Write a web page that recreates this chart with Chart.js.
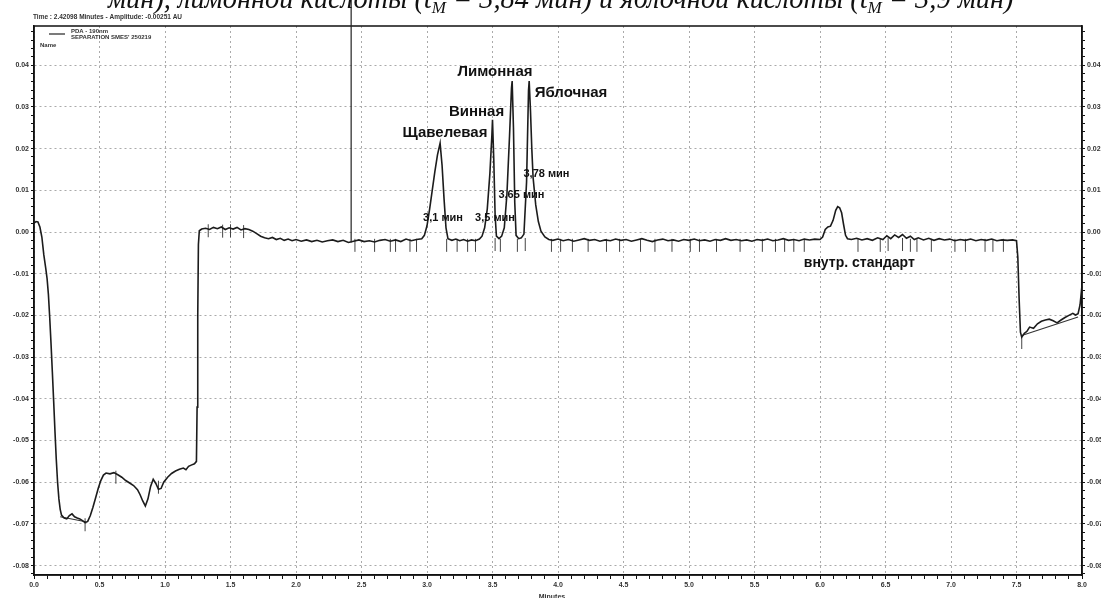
<!DOCTYPE html>
<html>
<head>
<meta charset="utf-8">
<script src="https://cdn.jsdelivr.net/npm/chart.js@4.4.1/dist/chart.umd.min.js"></script>
<style>
  html, body { margin: 0; padding: 0; background: #fff; }
</style>
</head>
<body>
<canvas id="chromChart" width="1101" height="598"></canvas>
<script>
// detector trace, [minutes, AU]
const trace = [
  [0.00, 0.0021], [0.015, 0.0025], [0.03, 0.0024], [0.045, 0.0012], [0.06, -0.0012], [0.075, -0.0055],
  [0.09, -0.0088], [0.10, -0.0112], [0.11, -0.0150], [0.12, -0.0205], [0.13, -0.0268], [0.14, -0.0335],
  [0.15, -0.0405], [0.16, -0.0478], [0.17, -0.0545], [0.18, -0.0600], [0.19, -0.0640], [0.20, -0.0665],
  [0.21, -0.0679], [0.23, -0.0686], [0.25, -0.0688], [0.27, -0.0680], [0.29, -0.0676], [0.31, -0.0683],
  [0.33, -0.0686], [0.35, -0.0688], [0.37, -0.0692], [0.39, -0.0697], [0.41, -0.0694], [0.43, -0.0680],
  [0.45, -0.0660], [0.47, -0.0638], [0.49, -0.0615], [0.51, -0.0596], [0.53, -0.0583], [0.55, -0.0578],
  [0.58, -0.0580], [0.61, -0.0577], [0.64, -0.0582], [0.67, -0.0588], [0.70, -0.0596], [0.73, -0.0602],
  [0.76, -0.0608], [0.79, -0.0618], [0.81, -0.0630], [0.83, -0.0645], [0.85, -0.0657], [0.87, -0.0640],
  [0.89, -0.0610], [0.91, -0.0593], [0.93, -0.0603], [0.95, -0.0617], [0.97, -0.0615], [0.99, -0.0600],
  [1.02, -0.0588], [1.05, -0.0579], [1.08, -0.0573], [1.11, -0.0569], [1.14, -0.0566], [1.16, -0.0570],
  [1.18, -0.0562], [1.20, -0.0559], [1.225, -0.0556], [1.24, -0.0550], [1.245, -0.0420], [1.25, -0.0200],
  [1.255, -0.0030], [1.262, 0.0003],
  [1.28, 0.0007], [1.31, 0.0009], [1.34, 0.0006], [1.37, 0.0011], [1.40, 0.0008], [1.43, 0.0012],
  [1.46, 0.0006], [1.49, 0.0010], [1.52, 0.0007], [1.55, 0.0011], [1.58, 0.0005], [1.61, 0.0008],
  [1.64, 0.0006], [1.67, 0.0002], [1.70, -0.0004], [1.73, -0.0010], [1.76, -0.0014], [1.79, -0.0016],
  [1.82, -0.0013], [1.85, -0.0018], [1.88, -0.0015], [1.91, -0.0020], [1.94, -0.0017], [1.97, -0.0021],
  [2.00, -0.0018], [2.04, -0.0022], [2.08, -0.0019], [2.12, -0.0023], [2.16, -0.0020], [2.20, -0.0024],
  [2.24, -0.0021], [2.28, -0.0019], [2.32, -0.0023], [2.36, -0.0020], [2.40, -0.0025], [2.44, -0.0022],
  [2.48, -0.0019], [2.52, -0.0023], [2.56, -0.0021], [2.60, -0.0024], [2.64, -0.0020], [2.68, -0.0018],
  [2.72, -0.0022], [2.76, -0.0019], [2.80, -0.0023], [2.84, -0.0017], [2.88, -0.0021], [2.92, -0.0018],
  [2.96, -0.0016],
  [2.98, -0.0008], [3.00, 0.0015], [3.02, 0.0055], [3.04, 0.0100], [3.06, 0.0145], [3.08, 0.0185],
  [3.10, 0.0213], [3.115, 0.0160], [3.13, 0.0080], [3.145, 0.0010], [3.16, -0.0016], [3.19, -0.0020],
  [3.22, -0.0017], [3.25, -0.0021], [3.28, -0.0018], [3.31, -0.0022], [3.34, -0.0019], [3.37, -0.0021],
  [3.40, -0.0017], [3.42, -0.0010], [3.44, 0.0010], [3.46, 0.0055], [3.48, 0.0140], [3.495, 0.0230],
  [3.50, 0.0269], [3.51, 0.0170], [3.52, 0.0040], [3.53, -0.0010], [3.55, -0.0016], [3.57, -0.0010],
  [3.59, 0.0010], [3.61, 0.0090], [3.63, 0.0230], [3.645, 0.0345], [3.65, 0.0362], [3.66, 0.0250],
  [3.67, 0.0070], [3.68, -0.0008], [3.70, -0.0016], [3.72, -0.0014], [3.74, -0.0005], [3.76, 0.0120],
  [3.775, 0.0340], [3.78, 0.0362], [3.79, 0.0290], [3.80, 0.0200], [3.81, 0.0130], [3.83, 0.0065],
  [3.85, 0.0025], [3.87, 0.0002], [3.90, -0.0012], [3.93, -0.0018],
  [3.96, -0.0020], [4.00, -0.0017], [4.04, -0.0021], [4.08, -0.0018], [4.12, -0.0022], [4.16, -0.0019],
  [4.20, -0.0016], [4.24, -0.0020], [4.28, -0.0018], [4.32, -0.0022], [4.36, -0.0019], [4.40, -0.0021],
  [4.44, -0.0017], [4.48, -0.0020], [4.52, -0.0018], [4.56, -0.0022], [4.60, -0.0019], [4.64, -0.0016],
  [4.68, -0.0020], [4.72, -0.0023], [4.76, -0.0019], [4.80, -0.0017], [4.84, -0.0021], [4.88, -0.0019],
  [4.92, -0.0022], [4.96, -0.0018], [5.00, -0.0020], [5.04, -0.0017], [5.08, -0.0021], [5.12, -0.0019],
  [5.16, -0.0022], [5.20, -0.0018], [5.24, -0.0020], [5.28, -0.0016], [5.32, -0.0020], [5.36, -0.0018],
  [5.40, -0.0021], [5.44, -0.0019], [5.48, -0.0022], [5.52, -0.0018], [5.56, -0.0020], [5.60, -0.0017],
  [5.64, -0.0021], [5.68, -0.0019], [5.72, -0.0016], [5.76, -0.0020], [5.80, -0.0018], [5.84, -0.0021],
  [5.88, -0.0017], [5.92, -0.0019], [5.96, -0.0017], [6.00, -0.0018],
  [6.02, -0.0012], [6.04, 0.0006], [6.06, 0.0012], [6.08, 0.0014], [6.10, 0.0028], [6.12, 0.0052],
  [6.135, 0.0061], [6.15, 0.0058], [6.165, 0.0046], [6.18, 0.0018], [6.195, -0.0008], [6.21, -0.0016],
  [6.24, -0.0018], [6.28, -0.0015], [6.32, -0.0019], [6.36, -0.0016], [6.40, -0.0020], [6.44, -0.0014],
  [6.48, -0.0018], [6.51, -0.0009], [6.54, -0.0016], [6.57, -0.0007], [6.60, -0.0013], [6.63, -0.0006],
  [6.66, -0.0015], [6.69, -0.0010], [6.72, -0.0018], [6.75, -0.0014], [6.79, -0.0019], [6.83, -0.0015],
  [6.87, -0.0020], [6.91, -0.0016], [6.95, -0.0019], [6.99, -0.0017], [7.03, -0.0021], [7.07, -0.0018],
  [7.11, -0.0020], [7.15, -0.0017], [7.19, -0.0021], [7.23, -0.0018], [7.27, -0.0020], [7.31, -0.0017],
  [7.35, -0.0021], [7.39, -0.0019], [7.43, -0.0020], [7.47, -0.0019], [7.50, -0.0021],
  [7.51, -0.0060], [7.52, -0.0160], [7.53, -0.0240], [7.54, -0.0252], [7.56, -0.0243], [7.58, -0.0238],
  [7.60, -0.0228], [7.63, -0.0231], [7.66, -0.0220], [7.69, -0.0214], [7.72, -0.0211], [7.75, -0.0209],
  [7.78, -0.0213], [7.81, -0.0218], [7.84, -0.0211], [7.87, -0.0205], [7.90, -0.0200], [7.93, -0.0195],
  [7.95, -0.0199], [7.97, -0.0196], [7.985, -0.0175], [8.00, -0.0128]
];

// straight integration baselines
const baselineFits = [
  [[0.20, -0.0683], [0.395, -0.0695]],
  [[7.54, -0.0248], [7.97, -0.0204]]
];

// peak event marks (short vertical dashes)
const eventMarks = [
  [0.39, -0.0702], [0.625, -0.0588], [0.95, -0.0612],
  [1.33, 0.0003], [1.44, 0.0002], [1.50, 0.0003], [1.60, 0.0001],
  [2.45, -0.0032], [2.60, -0.0032], [2.72, -0.0032], [2.76, -0.0032], [2.87, -0.0032], [2.92, -0.0032],
  [3.15, -0.0032], [3.23, -0.0032], [3.31, -0.0032], [3.37, -0.0032], [3.52, -0.0030], [3.56, -0.0032],
  [3.69, -0.0032], [3.75, -0.0030], [3.95, -0.0032], [4.02, -0.0032], [4.11, -0.0032], [4.23, -0.0032],
  [4.37, -0.0032], [4.47, -0.0032], [4.63, -0.0032], [4.74, -0.0032], [4.87, -0.0032], [5.01, -0.0032],
  [5.08, -0.0032], [5.21, -0.0032], [5.39, -0.0032], [5.56, -0.0032], [5.66, -0.0032], [5.73, -0.0032],
  [5.80, -0.0032], [5.88, -0.0032], [6.29, -0.0032], [6.46, -0.0032], [6.52, -0.0030], [6.63, -0.0030],
  [6.69, -0.0032], [6.74, -0.0032], [6.85, -0.0032], [7.03, -0.0032], [7.11, -0.0032], [7.26, -0.0032],
  [7.32, -0.0032], [7.40, -0.0032], [7.54, -0.0265]
];

// peak names and retention times, anchored in data units [text, minutes, AU]
const peakNames = [
  ["Щавелевая", 3.137, 0.0237],
  ["Винная", 3.378, 0.0288],
  ["Лимонная", 3.519, 0.0384],
  ["Яблочная", 4.099, 0.0333],
  ["внутр. стандарт", 6.30, -0.0074]
];
const retentionLabels = [
  ["3,1 мин", 3.122, 0.0034],
  ["3,5 мин", 3.519, 0.0034],
  ["3,65 мин", 3.721, 0.0089],
  ["3,78 мин", 3.912, 0.0139]
];

const cursorTime = 2.42098;
const cursorAmp = -0.00251;
const xMin = 0, xMax = 8;
const yMin = -0.08225, yMax = 0.0494;

const onStep = (v, step) => Math.abs(v / step - Math.round(v / step)) < 1e-6;
const tickFont = { family: "Liberation Sans", size: 7, weight: "bold" };

const baselineData = [];
baselineFits.forEach((seg) => {
  seg.forEach(([x, y]) => baselineData.push({ x, y }));
  baselineData.push({ x: seg[1][0] + 0.001, y: null });
});

const yAxis = (pos) => ({
  position: pos,
  min: yMin,
  max: yMax,
  afterFit: (s) => { s.width = pos === "left" ? 34 : 19; },
  ticks: {
    stepSize: 0.002,
    includeBounds: false,
    autoSkip: false,
    padding: 2,
    color: "#333",
    font: tickFont,
    callback: (v) => onStep(v, 0.01) ? (Math.abs(v) < 1e-9 ? "0.00" : v.toFixed(2)) : ""
  },
  grid: {
    drawOnChartArea: pos === "left",
    color: (c) => c.tick && onStep(c.tick.value, 0.01) ? "#aaa" : "rgba(0,0,0,0)",
    lineWidth: 1,
    tickColor: "#111",
    tickLength: 3
  },
  border: { color: "#111", width: 1.5, dash: [2, 3] }
});

const overlay = {
  id: "overlay",
  afterDatasetsDraw(chart) {
    const { ctx, chartArea: a, scales: { x, y } } = chart;
    ctx.save();
    // plot frame
    ctx.strokeStyle = "#111";
    ctx.lineWidth = 1.5;
    ctx.strokeRect(a.left, a.top, a.right - a.left, a.bottom - a.top);
    // cursor line
    const cx = x.getPixelForValue(cursorTime);
    ctx.lineWidth = 1.2;
    ctx.strokeStyle = "#222";
    ctx.beginPath();
    ctx.moveTo(cx, 0);
    ctx.lineTo(cx, y.getPixelForValue(cursorAmp));
    ctx.stroke();

    // peak annotations
    ctx.fillStyle = "#111";
    ctx.textAlign = "center";
    ctx.textBaseline = "middle";
    ctx.font = "bold 15px 'Liberation Sans'";
    peakNames.forEach(([t, px, py]) => {
      if (t === "внутр. стандарт") ctx.font = "bold 14px 'Liberation Sans'";
      ctx.fillText(t, x.getPixelForValue(px), y.getPixelForValue(py));
    });
    ctx.font = "bold 11px 'Liberation Sans'";
    retentionLabels.forEach(([t, px, py]) => {
      ctx.fillText(t, x.getPixelForValue(px), y.getPixelForValue(py));
    });

    // header info
    ctx.textAlign = "left";
    ctx.fillStyle = "#333";
    ctx.font = "bold 6.5px 'Liberation Sans'";
    ctx.fillText("Time : 2.42098 Minutes - Amplitude: -0.00251 AU", 33, 17);
    // legend
    ctx.strokeStyle = "#222";
    ctx.lineWidth = 1.2;
    ctx.beginPath();
    ctx.moveTo(49, 34);
    ctx.lineTo(65, 34);
    ctx.stroke();
    ctx.font = "bold 6px 'Liberation Sans'";
    ctx.fillText("PDA - 190nm", 71, 31);
    ctx.fillText("SEPARATION SMES' 250219", 71, 37);
    ctx.fillText("Name", 40, 45);
    // axis title (clipped at bottom)
    ctx.textAlign = "center";
    ctx.font = "bold 7px 'Liberation Sans'";
    ctx.fillText("Minutes", (a.left + a.right) / 2 - 6, 597);

    // caption line cut off at top, fitted between x = 108 and x = 1014
    ctx.fillStyle = "#111";
    ctx.textAlign = "left";
    ctx.textBaseline = "alphabetic";
    const parts = [
      [1, "мин), лимонной кислоты (", 0], [1, "t", 0], [0.6, "M", 5],
      [1, " = 3,84 мин) и яблочной кислоты (", 0], [1, "t", 0], [0.6, "M", 5],
      [1, " = 3,9 мин)", 0]
    ];
    const widthAt = (size) => parts.reduce((w, [k, s]) => {
      ctx.font = "italic " + (size * k) + "px 'Liberation Serif'";
      return w + ctx.measureText(s).width;
    }, 0);
    const size = 25 * (1014 - 108) / widthAt(25);
    let cx2 = 108;
    parts.forEach(([k, s, dy]) => {
      ctx.font = "italic " + (size * k) + "px 'Liberation Serif'";
      ctx.fillText(s, cx2, 8 + dy);
      cx2 += ctx.measureText(s).width;
    });
    ctx.restore();
  }
};

new Chart(document.getElementById("chromChart"), {
  type: "scatter",
  data: {
    datasets: [
      {
        label: "PDA - 190nm",
        data: trace.map(([x, y]) => ({ x, y })),
        showLine: true,
        borderColor: "#1c1c1c",
        borderWidth: 1.6,
        pointRadius: 0,
        tension: 0
      },
      {
        label: "baseline",
        data: baselineData,
        showLine: true,
        spanGaps: false,
        borderColor: "#333",
        borderWidth: 1.1,
        pointRadius: 0
      },
      {
        label: "events",
        data: eventMarks.map(([x, y]) => ({ x, y })),
        showLine: false,
        pointStyle: "line",
        rotation: 90,
        radius: 6.5,
        borderColor: "#444",
        borderWidth: 1
      }
    ]
  },
  options: {
    responsive: false,
    animation: false,
    devicePixelRatio: 1,
    layout: { padding: { top: 26, left: 0, right: 0, bottom: 0 } },
    plugins: {
      legend: { display: false },
      tooltip: { enabled: false }
    },
    scales: {
      x: {
        type: "linear",
        min: xMin,
        max: xMax,
        afterFit: (s) => { s.height = 23; },
        ticks: {
          stepSize: 0.1,
          autoSkip: false,
          maxRotation: 0,
          padding: 2,
          color: "#333",
          font: tickFont,
          callback: (v) => onStep(v, 0.5) ? v.toFixed(1) : ""
        },
        grid: {
          color: (c) => c.tick && onStep(c.tick.value, 0.5) ? "#aaa" : "rgba(0,0,0,0)",
          lineWidth: 1,
          tickColor: "#111",
          tickLength: 4
        },
        border: { color: "#111", width: 1.5, dash: [2, 3] }
      },
      y: yAxis("left"),
      y2: yAxis("right")
    }
  },
  plugins: [overlay]
});
</script>
</body>
</html>
